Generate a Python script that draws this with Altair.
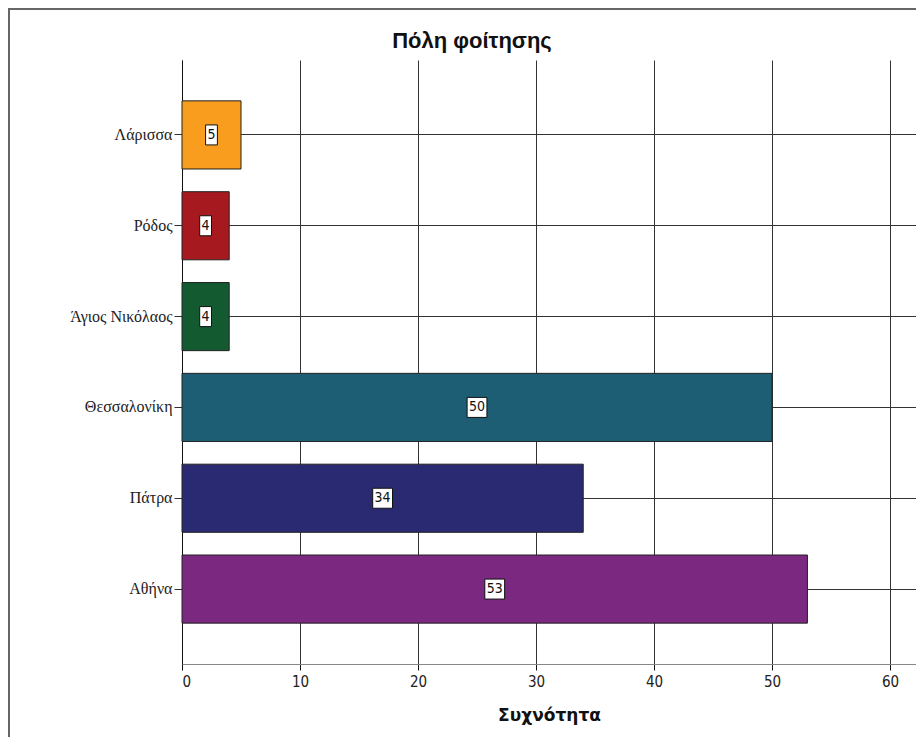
import altair as alt
import pandas as pd

cities = ["Λάρισσα", "Ρόδος", "Άγιος Νικόλαος", "Θεσσαλονίκη", "Πάτρα", "Αθήνα"]
counts = [5, 4, 4, 50, 34, 53]
colors = ["#F89D1E", "#A5191F", "#135A30", "#1D5E74", "#2A2A73", "#7A2880"]
x_ticks = [0, 10, 20, 30, 40, 50, 60]

df = pd.DataFrame({"city": cities, "count": counts})

PLOT_W, PLOT_H = 734, 604

y_axis = alt.Axis(
    title=None,
    labelFont="Liberation Serif, DejaVu Serif, serif",
    labelFontSize=16,
    labelColor="#222222",
    labelPadding=2,
    tickColor="#333333",
    tickSize=8,
    domain=True,
    domainColor="#111111",
    grid=True,
    gridColor="#333333",
    gridWidth=1,
    bandPosition=0.5,
)

x_axis = alt.Axis(
    values=x_ticks,
    title="Συχνότητα",
    titleFont="DejaVu Sans, sans-serif",
    titleFontSize=17,
    titleFontWeight="bold",
    titleColor="#111111",
    titlePadding=18,
    labelFont="Liberation Sans Narrow, DejaVu Sans Condensed, sans-serif",
    labelFontSize=15,
    labelColor="#222222",
    labelPadding=4,
    tickColor="#111111",
    tickSize=6,
    domainColor="#888888",
    grid=True,
    gridColor="#333333",
    gridWidth=1,
)

x_scale = alt.Scale(domain=[0, 62.2], nice=False)
y_scale = alt.Scale(paddingInner=0.25, paddingOuter=0.45)


def yenc():
    return alt.Y("city:N", sort=cities, scale=y_scale, axis=y_axis)


bars = alt.Chart(df).mark_bar(stroke="#222222", strokeWidth=1).encode(
    x=alt.X("count:Q", scale=x_scale, axis=x_axis),
    y=yenc(),
    color=alt.Color("city:N", scale=alt.Scale(domain=cities, range=colors), legend=None),
)

boxes = alt.Chart(df).transform_calculate(
    lo="datum.count / 2 - (0.16 + 0.34 * length(toString(datum.count)))",
    hi="datum.count / 2 + (0.16 + 0.34 * length(toString(datum.count)))",
).mark_bar(height=20, fill="white", stroke="#111111", strokeWidth=1).encode(
    x=alt.X("lo:Q", scale=x_scale, axis=x_axis),
    x2="hi:Q",
    y=yenc(),
)

labels = alt.Chart(df).transform_calculate(
    mid="datum.count / 2"
).mark_text(
    font="Liberation Sans Narrow, DejaVu Sans Condensed, sans-serif",
    fontSize=14,
    color="#111111",
    align="center",
    baseline="middle",
).encode(
    x=alt.X("mid:Q", scale=x_scale, axis=x_axis),
    y=yenc(),
    text="count:Q",
)

frame = alt.Chart(pd.DataFrame({"f": [0]})).mark_rect(
    fill="white", fillOpacity=0, stroke="#666666", strokeWidth=2
).encode(
    x=alt.value(-173),
    x2=alt.value(PLOT_W + 40),
    y=alt.value(-51),
    y2=alt.value(PLOT_H + 120),
)

chart = alt.layer(frame, bars, boxes, labels).properties(
    width=PLOT_W,
    height=PLOT_H,
    padding={"left": 174, "top": 52, "right": 0, "bottom": 73},
    autosize=alt.AutoSizeParams(type="none"),
    background="white",
    title=alt.Title(
        "Πόλη φοίτησης",
        font="Liberation Sans, Arial, sans-serif",
        fontSize=22,
        fontWeight="bold",
        color="#111111",
        anchor="middle",
        dx=-77,
        offset=-45,
    ),
).configure_view(strokeWidth=0, stroke="transparent")

chart.save("out.html", embed_options={"renderer": "svg", "actions": False})
